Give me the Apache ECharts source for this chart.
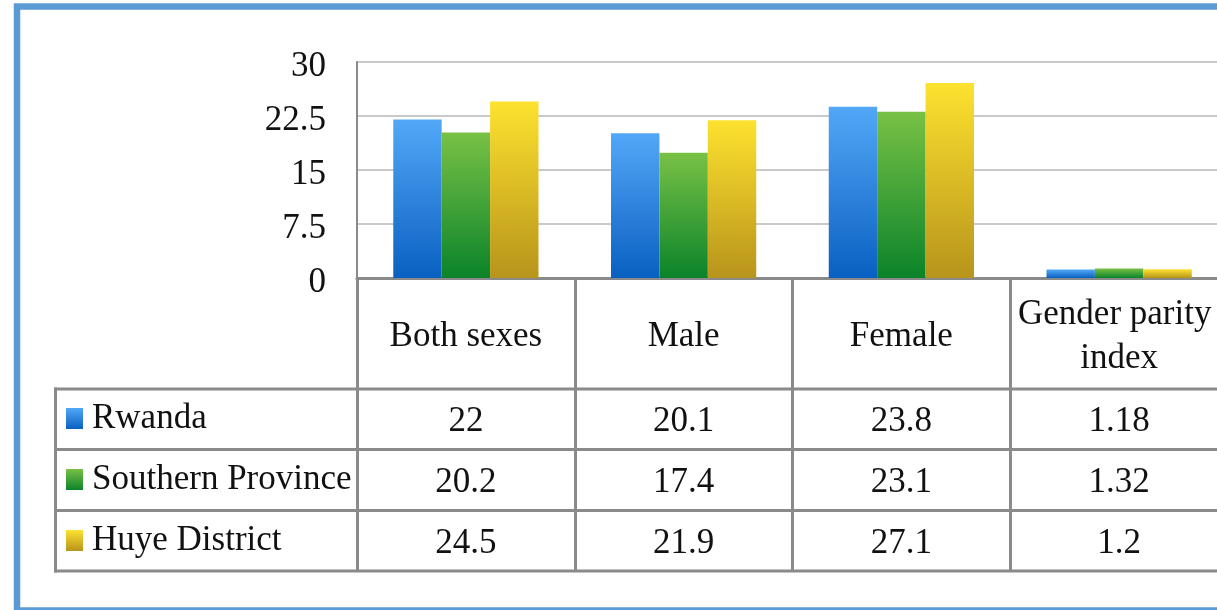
<!DOCTYPE html>
<html>
<head>
<meta charset="utf-8">
<script src="https://cdn.jsdelivr.net/npm/echarts@6/dist/echarts.min.js"></script>
<style>html,body{margin:0;padding:0;background:#fff;overflow:hidden;width:1217px;height:610px}#c{width:1240px;height:610px}</style>
</head>
<body>
<div id="c"></div>
<script>
var categories = ['Both sexes', 'Male', 'Female', 'Gender parity index'];
var seriesNames = ['Rwanda', 'Southern Province', 'Huye District'];
var rwanda = [22, 20.1, 23.8, 1.18];
var southern = [20.2, 17.4, 23.1, 1.32];
var huye = [24.5, 21.9, 27.1, 1.2];
var yTicks = [0, 7.5, 15, 22.5, 30];

var FONT = 'Liberation Serif';
var FS = 35;
var gridColor = '#c9c9c9';
var lineColor = '#8a8a8a';

function grad(top, bottom) {
  return new echarts.graphic.LinearGradient(0, 0, 0, 1, [
    {offset: 0, color: top}, {offset: 1, color: bottom}
  ]);
}
var colors = [grad('#52a8f7', '#0a60c0'), grad('#78c145', '#0b832a'), grad('#fde22f', '#b7941b')];
var allValues = [rwanda, southern, huye];

var rowMargins = [144, 205, 266];
var dataAxes = allValues.map(function (vals, k) {
  return {
    type: 'category', gridIndex: 0, position: 'bottom', data: categories,
    axisLine: {show: false}, axisTick: {show: false}, splitLine: {show: false},
    axisLabel: {
      interval: 0, margin: rowMargins[k], verticalAlign: 'middle',
      fontFamily: FONT, fontSize: FS, color: '#111',
      formatter: function (v, i) { return String(vals[i]); }
    }
  };
});

var option = {
  animation: false,
  backgroundColor: '#fff',
  grid: {left: 357, top: 62, width: 871, height: 216, containLabel: false},
  legend: {
    data: seriesNames, orient: 'vertical', left: 66, top: 401,
    padding: 0, itemWidth: 17, itemHeight: 21, itemGap: 26,
    icon: 'rect', selectedMode: false,
    textStyle: {fontFamily: FONT, fontSize: FS, color: '#111', padding: [2, 0, 0, 4]}
  },
  xAxis: [{
    type: 'category', gridIndex: 0, position: 'bottom', data: categories,
    axisLine: {show: true, lineStyle: {color: lineColor, width: 3}},
    axisTick: {show: true, length: 293, lineStyle: {color: lineColor, width: 3}},
    axisLabel: {
      interval: 0, margin: 59, verticalAlign: 'middle', lineHeight: 44,
      fontFamily: FONT, fontSize: FS, color: '#111', width: 205, overflow: 'break'
    }
  }].concat(dataAxes),
  yAxis: {
    type: 'value', min: 0, max: 30, interval: 7.5,
    axisLine: {show: true, lineStyle: {color: lineColor, width: 2}},
    axisTick: {show: false},
    splitLine: {show: true, lineStyle: {color: gridColor, width: 2}},
    axisLabel: {
      margin: 31, fontFamily: FONT, fontSize: FS, color: '#111',
      formatter: function (v) { return yTicks.indexOf(v) >= 0 ? '{a|' + v + '}' : ''; },
      rich: {a: {fontFamily: FONT, fontSize: FS, color: '#111', padding: [10, 0, 0, 0]}}
    }
  },
  series: seriesNames.map(function (name, k) {
    return {
      name: name, type: 'bar', xAxisIndex: 0, data: allValues[k],
      barGap: '0%', barCategoryGap: '33.3%',
      itemStyle: {color: colors[k]}
    };
  }),
  graphic: [
    {type: 'rect', silent: true, shape: {x: 17, y: 6.5, width: 1250, height: 604},
     style: {fill: null, stroke: '#5b9bd5', lineWidth: 6.5}},
    {type: 'rect', silent: true, shape: {x: 54, y: 387.5, width: 1200, height: 3}, style: {fill: lineColor}},
    {type: 'rect', silent: true, shape: {x: 54, y: 448, width: 1200, height: 3}, style: {fill: lineColor}},
    {type: 'rect', silent: true, shape: {x: 54, y: 509, width: 1200, height: 3}, style: {fill: lineColor}},
    {type: 'rect', silent: true, shape: {x: 54, y: 569.5, width: 1200, height: 3}, style: {fill: lineColor}},
    {type: 'rect', silent: true, shape: {x: 54, y: 387.5, width: 3, height: 185}, style: {fill: lineColor}}
  ]
};

var chart = echarts.init(document.getElementById('c'), null, {renderer: 'canvas'});
chart.setOption(option);
</script>
</body>
</html>
